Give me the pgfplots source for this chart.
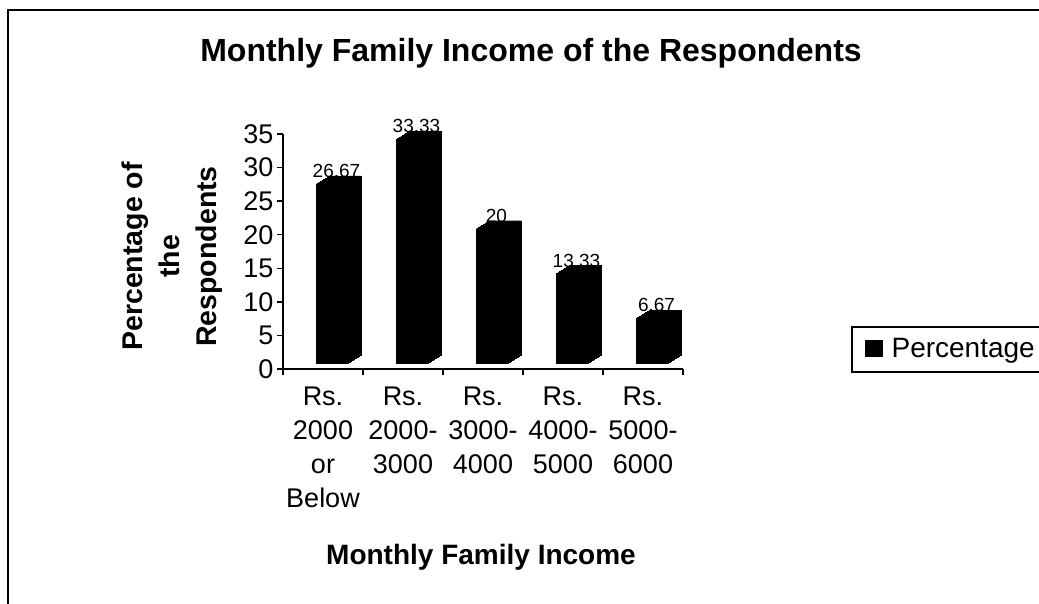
\documentclass[border=0pt]{standalone}
\usepackage{fontspec}
\setmainfont{Liberation Sans}
\usepackage{pgfplots}
\pgfplotsset{compat=1.18}
\usepackage{pgfplotstable}

\pgfplotstableread{
x y lab
0 26.67 26.67
1 33.33 33.33
2 20 20
3 13.33 13.33
4 6.67 6.67
}\data

\begin{document}
\begin{tikzpicture}[x=1pt,y=1pt]
\draw[line width=2pt] (8,-10) rectangle (1050,593);
\begin{axis}[
  at={(283pt,234pt)}, anchor=south west,
  scale only axis, width=400pt, height=235pt,
  xmin=-0.5, xmax=4.5, ymin=0, ymax=35, clip=false,
  axis x line*=bottom, axis y line*=left,
  axis line style={line width=1.5pt, -},
  tick align=outside, major tick length=6pt,
  tick style={line width=1.5pt, black},
  /pgf/number format/assume math mode=true,
  ytick={0,5,...,35},
  yticklabel style={font=\fontsize{27}{30}\selectfont},
  xtick={-0.5,0.5,...,4.5}, xticklabels={},
  extra x ticks={0,1,2,3,4},
  extra x tick labels={{Rs.\\2000\\or\\Below},{Rs.\\2000-\\3000},{Rs.\\3000-\\4000},{Rs.\\4000-\\5000},{Rs.\\5000-\\6000}},
  extra x tick style={major tick length=0pt, tick label style={align=center, yshift=-14pt, font=\fontsize{27}{34}\selectfont}},
  title={Monthly Family Income of the Respondents},
  title style={at={(rel axis cs:0.62,1.3106)}, anchor=base, yshift=-6pt, font=\bfseries\fontsize{32}{36}\selectfont},
  xlabel={Monthly Family Income},
  xlabel style={at={(rel axis cs:0.495,-0.834)}, anchor=base, font=\bfseries\fontsize{28}{34}\selectfont},
  ylabel={Percentage of\\the\\Respondents},
  ylabel style={align=center, at={(rel axis cs:-0.2775,0.479)}, anchor=center, font=\bfseries\fontsize{28.5}{37}\selectfont},
  legend style={at={(rel axis cs:1.4225,0.1787)}, anchor=north west, xshift=2pt, draw=none, fill=none,
    inner xsep=11pt, inner ysep=9pt, font=\fontsize{28}{30}\selectfont},
]
\pgfplotsforeachungrouped \k in {0,...,13}{%
  \pgfmathsetmacro\bs{9+\k}%
  \pgfmathsetmacro\ys{6+\k*8/13}%
  \edef\tmp{\noexpand\addplot[ybar, bar width=32pt, bar shift=\bs pt, yshift=\ys pt, fill=black, draw=black, line width=0.4pt, forget plot] table[x=x,y=y]{\noexpand\data};}%
  \tmp
}
\addplot[draw=none, mark=none, forget plot, nodes near coords, point meta=explicit symbolic,
  nodes near coords style={anchor=base, xshift=13.5pt, yshift=12.5pt, font=\fontsize{19}{22}\selectfont, inner sep=0pt}]
  table[x=x,y=y,meta=lab]{\data};
\addlegendimage{legend image code/.code={\fill[black] (0pt,-8pt) rectangle (17pt,8pt); \path (24pt,0pt);}}
\addlegendentry{Percentage}
\end{axis}
\draw[line width=1.5pt] (1050,276) -- (852,276) -- (852,231) -- (1050,231);
\pgfresetboundingbox
\path[use as bounding box] (0,0) rectangle (1039,603);
\end{tikzpicture}
\end{document}
